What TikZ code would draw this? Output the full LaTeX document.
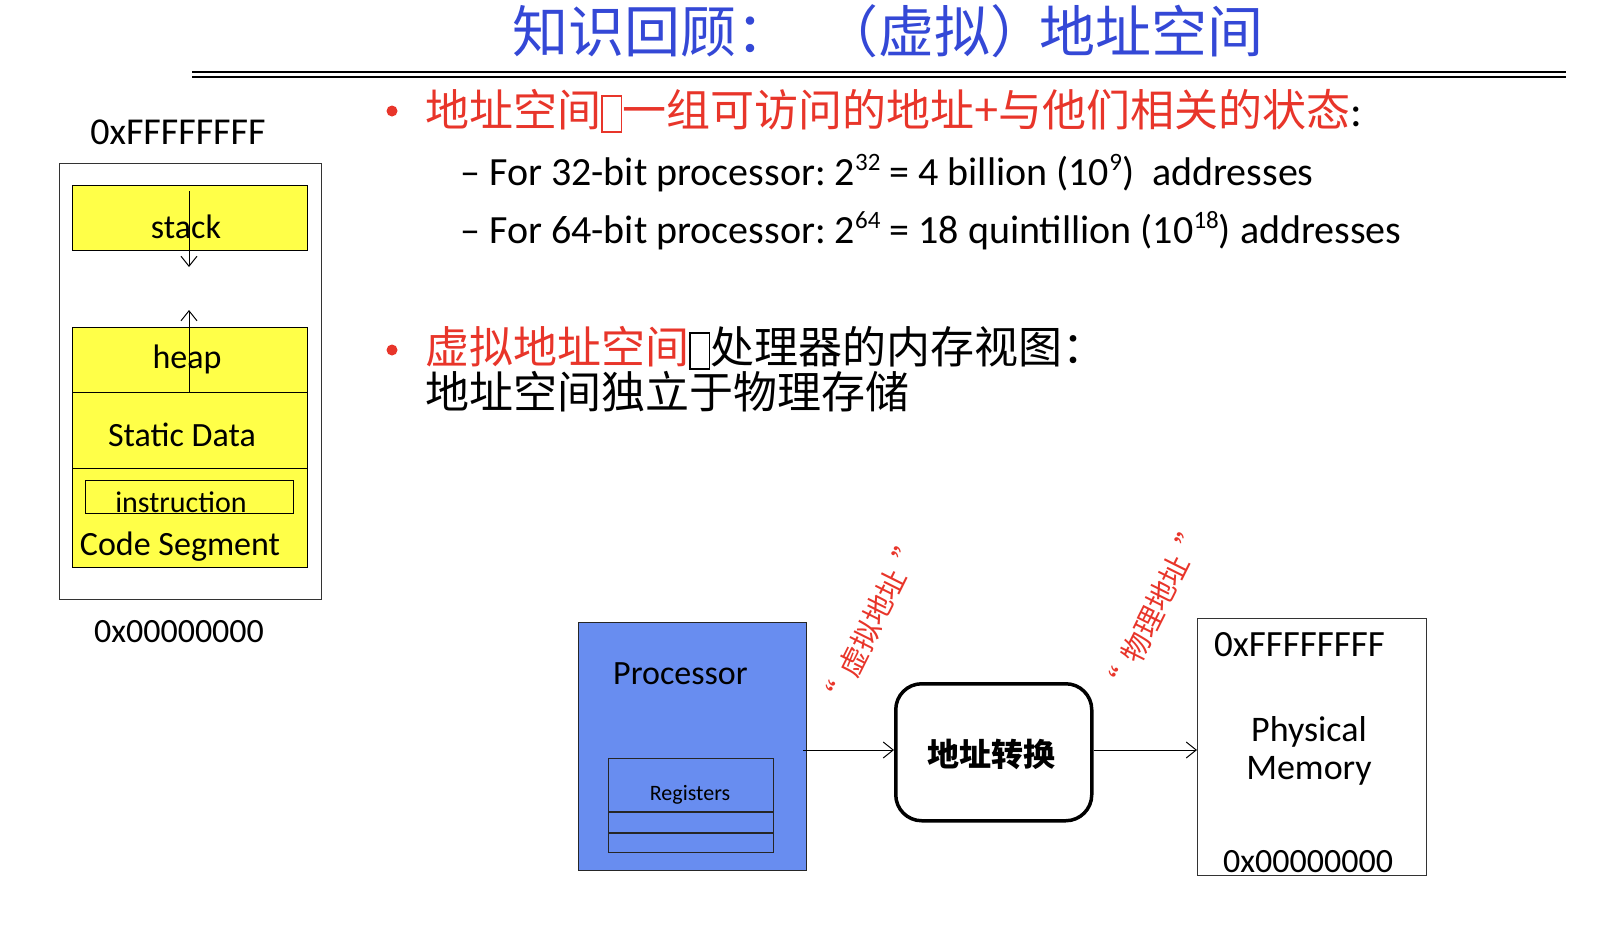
\documentclass[tikz,border=0pt]{standalone}
\usepackage{fontspec}
\setmainfont{Carlito}
\newfontfamily\cjk{Noto Sans CJK SC}
\usetikzlibrary{arrows.meta}

\definecolor{titleblue}{RGB}{52,72,214}
\definecolor{hlred}{RGB}{232,53,42}
\definecolor{segyellow}{RGB}{255,255,72}
\definecolor{cpublue}{RGB}{104,141,240}

% empty glyph box that stands in the running text
\newcommand\tofu{{\fboxsep=0pt\fboxrule=1.6pt\raisebox{-5pt}{\fbox{\rule{0pt}{34pt}\hspace{18pt}}}}}
% small raised numbers
\newcommand\supnum[1]{\raisebox{15pt}{\fontsize{25}{25}\selectfont #1}}
\newcommand\fs[1]{\fontsize{#1}{#1}\selectfont}
% full-width quotation marks around a short phrase
\newcommand\cjkquote[1]{“\hspace{11pt}#1\hspace{11pt}”}

\begin{document}
\begin{tikzpicture}[x=1pt,y=-1pt,
  seg/.style={draw=black,line width=1.3,fill=segyellow,inner sep=0},
  plain/.style={inner sep=0},
  lbl/.style={inner sep=0,anchor=base,font=\fs{34}},
  addr/.style={inner sep=0,anchor=base,font=\fs{34}},
  arr/.style={line width=1,-{Straight Barb[length=10,width=16]}},
  dot/.style={circle,fill=hlred,inner sep=0,minimum size=11},
  cjktext/.style={inner sep=0,anchor=base west,font=\cjk\fs{44}},
  tilted/.style={inner sep=0,text=hlred,font=\cjk\fs{29},rotate=63.5}]
\useasboundingbox (0,0) rectangle (1614,930);

% ---- title and rule ----
\node[plain,anchor=west,text=titleblue,font=\cjk\fs{56}] (t1) at (512,31) {知识回顾：};
\node[plain,text=titleblue,font=\cjk\fs{56}] (t2) at (934,31) {（虚拟）};
\node[plain,anchor=east,text=titleblue,font=\cjk\fs{56}] (t3) at (1264,31) {地址空间};
\coordinate (ruleL) at (192,72);
\coordinate (ruleR) at (1566,72);
\draw[line width=2.6] (ruleL) -- (ruleR);
\draw[line width=1.4] ([yshift=-5]ruleL) -- ([yshift=-5]ruleR);

% ---- bullet texts ----
\node[dot] (b1) at (392,111) {};
\node[cjktext] (l1) at (425,126)
  {\color{hlred}地址空间\tofu 一组可访问的地址+与他们相关的状态\color{black}{\fontspec{Carlito}:}};
\node[plain,anchor=base west,font=\fs{40}] (s1) at (460,185)
  {– For 32-bit processor:\hspace{-3pt} 2\supnum{32} = 4 billion (10\supnum{9})\ \ addresses};
\node[plain,anchor=base west,font=\fs{40}] (s2) at (460,243)
  {– For 64-bit processor:\hspace{-3pt} 2\supnum{64} = 18 quintillion (10\supnum{18}) addresses};

\node[dot] (b2) at (392,350) {};
\node[cjktext] (l2) at (425,363) {\color{hlred}虚拟地址空间\color{black}\tofu 处理器的内存视图：};
\node[cjktext] (l3) at (425,408) {地址空间独立于物理存储};

% ---- virtual address space layout ----
\node[draw=black!80,line width=1.2,inner sep=0,minimum width=262,minimum height=436,anchor=north west] (vas) at (59,163) {};
\node[addr,font=\fs{38}] (vtop) at (178,144) {0xFFFFFFFF};
\node[addr] (vbot) at (179,642) {0x00000000};

\node[seg,minimum width=235,minimum height=65,anchor=north west] (stack) at (72,185) {};
\node[seg,minimum width=235,minimum height=65,anchor=north west] (heap) at (72,327) {};
\node[seg,minimum width=235,minimum height=76,anchor=north west] (static) at (72,392) {};
\node[seg,minimum width=235,minimum height=99,anchor=north west] (code) at (72,468) {};
\node[draw=black,line width=1.3,inner sep=0,minimum width=208,minimum height=33,anchor=north west] (instr) at (85,480) {};

\node[lbl] (stacktxt) at (186,238) {stack};
\node[lbl] (heaptxt) at (187,368) {heap};
\node[lbl] (statictxt) at (182,446) {Static Data};
\node[lbl,font=\fs{30}] (instrtxt) at (181,512) {instruction};
\node[lbl] (codetxt) at (180,555) {Code Segment};

\coordinate (sgA) at (189,191);
\coordinate (sgB) at (189,267);
\coordinate (hgA) at (189,392);
\coordinate (hgB) at (189,310);
\draw[arr] (sgA) -- (sgB);
\draw[arr] (hgA) -- (hgB);

% ---- translation path ----
\node[draw=black!85,line width=1.4,fill=cpublue,inner sep=0,minimum width=228,minimum height=248,anchor=north west] (cpu) at (578,622) {};
\node[plain,anchor=base west,font=\fs{34}] (cputxt) at (613,684) {Processor};
\node[draw=black!85,line width=1.3,inner sep=0,minimum width=165,minimum height=94,anchor=north west] (regs) at (608,758) {};
\coordinate (r1L) at (608,812);
\coordinate (r1R) at (773,812);
\coordinate (r2L) at (608,833);
\coordinate (r2R) at (773,833);
\draw[black!85,line width=1.3] (r1L) -- (r1R);
\draw[black!85,line width=1.3] (r2L) -- (r2R);
\node[lbl,font=\fs{22}] (regtxt) at (690,800) {Registers};

\node[draw=black,line width=3.5,rounded corners=26,inner sep=0,minimum width=196,minimum height=137,anchor=north west] (xlat) at (894,682) {};
\node[plain,font=\cjk\bfseries\fs{32}] (xlattxt) at (991,754) {地址转换};

\node[draw=black!80,line width=1.3,inner sep=0,minimum width=229,minimum height=257,anchor=north west] (pmem) at (1197,618) {};
\node[plain,anchor=base west,font=\fs{37}] (ptop) at (1214,656) {0xFFFFFFFF};
\node[lbl,font=\fs{36}] (pm1) at (1309,741) {Physical};
\node[lbl,font=\fs{36}] (pm2) at (1309,779) {Memory};
\node[plain,anchor=base west,font=\fs{34}] (pbot) at (1223,872) {0x00000000};

\coordinate (cpuOut) at (803,750);
\draw[arr] (cpuOut) -- (xlat.west |- cpuOut);
\draw[arr] (xlat.east |- cpuOut) -- (pmem.west |- cpuOut);

\node[tilted] (vaddr) at (872,623) {\cjkquote{虚拟地址}};
\node[tilted] (paddr) at (1155,609) {\cjkquote{物理地址}};
\end{tikzpicture}
\end{document}
